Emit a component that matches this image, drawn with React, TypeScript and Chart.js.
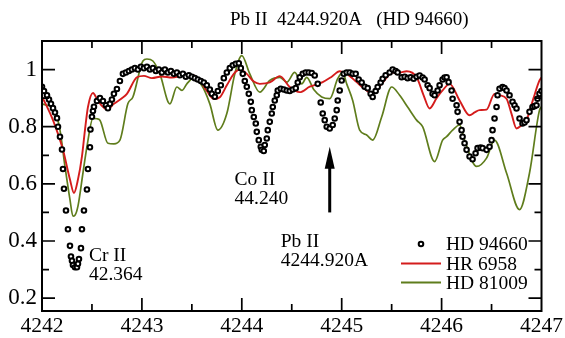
import React, { useEffect, useRef } from "react";
import { Chart, registerables } from "chart.js";

Chart.register(...registerables);

const TITLE = "Pb II  4244.920A   (HD 94660)";
const SERIES_NAMES = ["HD 94660", "HR 6958", "HD 81009"];
const X_TICKS = [4242, 4243, 4244, 4245, 4246, 4247];
const Y_TICKS = [0.2, 0.4, 0.6, 0.8, 1];

// HD 94660 (open circles): [wavelength, relative flux]
const HD94660: [number, number][] = [
  [4242.0, 0.94], [4242.02, 0.925], [4242.05, 0.91], [4242.07, 0.895], [4242.09, 0.88],
  [4242.11, 0.865], [4242.13, 0.85], [4242.15, 0.83], [4242.16, 0.8], [4242.18, 0.765],
  [4242.2, 0.72], [4242.21, 0.652], [4242.22, 0.583], [4242.24, 0.507], [4242.26, 0.441],
  [4242.28, 0.383], [4242.29, 0.346], [4242.3, 0.331], [4242.31, 0.316], [4242.33, 0.308],
  [4242.35, 0.308], [4242.36, 0.32], [4242.37, 0.337], [4242.39, 0.375], [4242.4, 0.441],
  [4242.42, 0.507], [4242.45, 0.58], [4242.46, 0.652], [4242.48, 0.728], [4242.485, 0.79],
  [4242.5, 0.835], [4242.51, 0.855], [4242.52, 0.87], [4242.55, 0.89], [4242.58, 0.9],
  [4242.61, 0.89], [4242.64, 0.875], [4242.66, 0.865], [4242.68, 0.88], [4242.7, 0.895],
  [4242.72, 0.915], [4242.75, 0.932], [4242.78, 0.96], [4242.81, 0.985], [4242.84, 0.99],
  [4242.87, 0.995], [4242.9, 1.0], [4242.93, 1.005], [4242.96, 1.0], [4242.99, 1.01],
  [4243.02, 1.005], [4243.05, 1.01], [4243.08, 1.0], [4243.11, 1.005], [4243.14, 0.995],
  [4243.17, 1.0], [4243.2, 0.99], [4243.23, 1.0], [4243.26, 0.99], [4243.29, 0.995],
  [4243.32, 0.985], [4243.35, 0.99], [4243.38, 0.98], [4243.41, 0.985], [4243.44, 0.975],
  [4243.47, 0.98], [4243.5, 0.975], [4243.53, 0.97], [4243.56, 0.965], [4243.59, 0.96],
  [4243.62, 0.955], [4243.65, 0.945], [4243.68, 0.93], [4243.7, 0.915], [4243.73, 0.905],
  [4243.76, 0.925], [4243.79, 0.945], [4243.82, 0.97], [4243.85, 0.99], [4243.88, 1.005],
  [4243.91, 1.015], [4243.94, 1.02], [4243.97, 1.022], [4243.99, 1.005], [4244.01, 0.985],
  [4244.03, 0.96], [4244.05, 0.94], [4244.07, 0.915], [4244.09, 0.887], [4244.1, 0.858],
  [4244.12, 0.834], [4244.14, 0.811], [4244.15, 0.782], [4244.17, 0.753], [4244.19, 0.73],
  [4244.2, 0.719], [4244.22, 0.715], [4244.23, 0.736], [4244.25, 0.759], [4244.26, 0.788],
  [4244.28, 0.817], [4244.3, 0.846], [4244.31, 0.869], [4244.33, 0.892], [4244.35, 0.91],
  [4244.36, 0.927], [4244.39, 0.933], [4244.42, 0.93], [4244.45, 0.927], [4244.48, 0.925],
  [4244.51, 0.93], [4244.54, 0.935], [4244.56, 0.955], [4244.58, 0.973], [4244.61, 0.985],
  [4244.64, 0.99], [4244.67, 0.99], [4244.7, 0.988], [4244.73, 0.979], [4244.76, 0.95],
  [4244.79, 0.885], [4244.81, 0.846], [4244.83, 0.823], [4244.85, 0.8], [4244.88, 0.794],
  [4244.91, 0.806], [4244.93, 0.829], [4244.95, 0.858], [4244.96, 0.892], [4244.98, 0.927],
  [4245.0, 0.962], [4245.02, 0.985], [4245.05, 0.99], [4245.08, 0.99], [4245.11, 0.985],
  [4245.14, 0.985], [4245.17, 0.965], [4245.2, 0.955], [4245.23, 0.94], [4245.26, 0.935],
  [4245.29, 0.915], [4245.31, 0.904], [4245.34, 0.925], [4245.36, 0.939], [4245.39, 0.955],
  [4245.41, 0.968], [4245.44, 0.98], [4245.48, 0.99], [4245.51, 1.0], [4245.54, 0.995],
  [4245.56, 0.99], [4245.6, 0.973], [4245.63, 0.975], [4245.66, 0.97], [4245.69, 0.973],
  [4245.72, 0.968], [4245.75, 0.975], [4245.78, 0.979], [4245.81, 0.972], [4245.83, 0.965],
  [4245.86, 0.945], [4245.88, 0.935], [4245.91, 0.915], [4245.93, 0.91], [4245.96, 0.927],
  [4245.98, 0.945], [4246.01, 0.965], [4246.03, 0.972], [4246.05, 0.973], [4246.07, 0.956],
  [4246.1, 0.927], [4246.11, 0.898], [4246.15, 0.875], [4246.16, 0.852], [4246.18, 0.817],
  [4246.2, 0.788], [4246.21, 0.765], [4246.23, 0.742], [4246.25, 0.719], [4246.28, 0.696],
  [4246.31, 0.686], [4246.34, 0.707], [4246.36, 0.725], [4246.39, 0.727], [4246.41, 0.725],
  [4246.45, 0.719], [4246.48, 0.73], [4246.5, 0.753], [4246.51, 0.788], [4246.53, 0.829],
  [4246.55, 0.869], [4246.56, 0.91], [4246.58, 0.933], [4246.61, 0.939], [4246.63, 0.935],
  [4246.65, 0.927], [4246.68, 0.91], [4246.71, 0.887], [4246.73, 0.875], [4246.75, 0.864],
  [4246.78, 0.829], [4246.81, 0.811], [4246.83, 0.815], [4246.85, 0.823], [4246.88, 0.852],
  [4246.91, 0.869], [4246.93, 0.872], [4246.95, 0.875], [4246.96, 0.898], [4246.98, 0.915],
  [4247.0, 0.925],
];

// HR 6958 (red line)
const HR6958: [number, number][] = [
  [4242.0, 0.905], [4242.05, 0.87], [4242.11, 0.823], [4242.21, 0.719], [4242.28, 0.615],
  [4242.32, 0.568], [4242.36, 0.615], [4242.4, 0.696], [4242.43, 0.788], [4242.46, 0.869],
  [4242.51, 0.918], [4242.56, 0.89], [4242.62, 0.866], [4242.65, 0.86], [4242.72, 0.88],
  [4242.8, 0.9], [4242.85, 0.915], [4242.95, 0.973], [4243.02, 0.978], [4243.1, 0.97],
  [4243.2, 0.976], [4243.3, 0.972], [4243.4, 0.978], [4243.5, 0.981], [4243.58, 0.962],
  [4243.65, 0.925], [4243.72, 0.897], [4243.78, 0.903], [4243.85, 0.945], [4243.92, 0.985],
  [4243.98, 1.0], [4244.05, 0.985], [4244.12, 0.958], [4244.18, 0.95], [4244.28, 0.955],
  [4244.38, 0.977], [4244.48, 0.939], [4244.58, 0.921], [4244.68, 0.94], [4244.81, 0.956],
  [4244.9, 0.975], [4244.98, 0.994], [4245.05, 0.985], [4245.15, 0.956], [4245.22, 0.935],
  [4245.31, 0.915], [4245.4, 0.95], [4245.51, 0.99], [4245.58, 0.99], [4245.65, 0.994],
  [4245.75, 0.973], [4245.82, 0.91], [4245.88, 0.864], [4245.95, 0.9], [4246.01, 0.927],
  [4246.08, 0.95], [4246.18, 0.892], [4246.28, 0.84], [4246.33, 0.85], [4246.38, 0.858],
  [4246.45, 0.86], [4246.53, 0.915], [4246.58, 0.91], [4246.65, 0.898], [4246.7, 0.845],
  [4246.75, 0.794], [4246.8, 0.805], [4246.85, 0.823], [4246.92, 0.9], [4246.98, 0.962],
  [4247.0, 0.972],
];

// HD 81009 (green line)
const HD81009: [number, number][] = [
  [4242.0, 0.88], [4242.05, 0.875], [4242.11, 0.869], [4242.18, 0.788], [4242.23, 0.661],
  [4242.28, 0.545], [4242.31, 0.487], [4242.33, 0.49], [4242.36, 0.522], [4242.41, 0.638],
  [4242.45, 0.73], [4242.51, 0.829], [4242.55, 0.828], [4242.58, 0.823], [4242.66, 0.742],
  [4242.72, 0.74], [4242.78, 0.753], [4242.86, 0.881], [4242.91, 0.904], [4243.01, 1.03],
  [4243.05, 1.037], [4243.11, 1.03], [4243.18, 0.985], [4243.28, 0.88], [4243.35, 0.939],
  [4243.4, 0.927], [4243.45, 0.95], [4243.51, 0.968], [4243.6, 0.944], [4243.68, 0.88],
  [4243.76, 0.788], [4243.85, 0.846], [4243.93, 0.985], [4244.0, 1.049], [4244.08, 0.985],
  [4244.18, 0.921], [4244.28, 0.962], [4244.38, 0.973], [4244.45, 0.956], [4244.53, 0.99],
  [4244.6, 0.95], [4244.65, 0.973], [4244.72, 0.93], [4244.8, 0.904], [4244.88, 0.898],
  [4244.96, 0.968], [4245.01, 0.99], [4245.05, 0.95], [4245.11, 0.892], [4245.18, 0.788],
  [4245.25, 0.771], [4245.31, 0.753], [4245.4, 0.834], [4245.5, 0.939], [4245.58, 0.91],
  [4245.66, 0.869], [4245.75, 0.823], [4245.81, 0.8], [4245.93, 0.678], [4246.01, 0.753],
  [4246.05, 0.765], [4246.11, 0.788], [4246.18, 0.806], [4246.23, 0.753], [4246.35, 0.661],
  [4246.45, 0.69], [4246.53, 0.753], [4246.65, 0.638], [4246.78, 0.51], [4246.88, 0.638],
  [4246.98, 0.858], [4247.0, 0.87],
];

const SERIF = "'Liberation Serif', 'Times New Roman', serif";
const RED = "#d41c1c";
const GREEN = "#5f7d1c";

const decorPlugin = {
  id: "decor",
  afterDatasetsDraw(chart: any) {
    const { ctx, chartArea: a, scales } = chart;
    const xs = scales.x;
    const ys = scales.y;
    ctx.save();
    ctx.strokeStyle = "#000";
    ctx.fillStyle = "#000";

    // frame
    ctx.lineWidth = 2;
    ctx.strokeRect(a.left, a.top, a.right - a.left, a.bottom - a.top);

    // inward ticks on all sides
    ctx.lineWidth = 1.7;
    ctx.beginPath();
    const xMin = X_TICKS[0];
    const xMax = X_TICKS[X_TICKS.length - 1];
    for (let i = 1; i < (xMax - xMin) * 2; i++) {
      const v = xMin + i * 0.5;
      const px = xs.getPixelForValue(v);
      const len = i % 2 === 0 ? 13 : 7;
      ctx.moveTo(px, a.bottom);
      ctx.lineTo(px, a.bottom - len);
      ctx.moveTo(px, a.top);
      ctx.lineTo(px, a.top + len);
    }
    for (let i = 2; i <= 10; i++) {
      const v = i / 10;
      const py = ys.getPixelForValue(v);
      const len = i % 2 === 0 ? 13 : 7;
      ctx.moveTo(a.left, py);
      ctx.lineTo(a.left + len, py);
      ctx.moveTo(a.right, py);
      ctx.lineTo(a.right - len, py);
    }
    ctx.stroke();

    // line identifications
    ctx.font = `19.5px ${SERIF}`;
    ctx.textAlign = "left";
    ctx.textBaseline = "alphabetic";
    const label = (wl: number, f: number, lines: string[]) => {
      const px = xs.getPixelForValue(wl);
      const py = ys.getPixelForValue(f);
      lines.forEach((t, k) => ctx.fillText(t, px, py + k * 19));
    };
    label(4242.47, 0.33, ["Cr II", "42.364"]);
    label(4243.927, 0.597, ["Co II", "44.240"]);
    label(4244.39, 0.378, ["Pb II", "4244.920A"]);

    // arrow pointing at Pb II line
    const ax = xs.getPixelForValue(4244.88);
    const tip = ys.getPixelForValue(0.73);
    const base = ys.getPixelForValue(0.5);
    ctx.lineWidth = 3;
    ctx.beginPath();
    ctx.moveTo(ax, base);
    ctx.lineTo(ax, tip + 18);
    ctx.stroke();
    ctx.beginPath();
    ctx.moveTo(ax, tip);
    ctx.lineTo(ax - 5, tip + 22);
    ctx.lineTo(ax + 5, tip + 22);
    ctx.closePath();
    ctx.fill();

    // title
    ctx.font = `19px ${SERIF}`;
    ctx.fillText(TITLE, 230, 25);

    // legend
    const lx0 = 401;
    const lx1 = 441;
    const tx = 446;
    const rows = [244, 263.5, 282.5];
    ctx.textBaseline = "middle";
    ctx.font = `19.5px ${SERIF}`;
    rows.forEach((ry, k) => {
      if (k === 0) {
        ctx.beginPath();
        ctx.arc(421, ry, 2.3, 0, Math.PI * 2);
        ctx.fillStyle = "#fff";
        ctx.fill();
        ctx.lineWidth = 2;
        ctx.strokeStyle = "#000";
        ctx.stroke();
      } else {
        ctx.beginPath();
        ctx.moveTo(lx0, ry);
        ctx.lineTo(lx1, ry);
        ctx.lineWidth = 1.8;
        ctx.strokeStyle = k === 1 ? RED : GREEN;
        ctx.stroke();
      }
      ctx.fillStyle = "#000";
      ctx.fillText(SERIES_NAMES[k], tx, ry + 1);
    });
    ctx.restore();
  },
};

export default function App() {
  const ref = useRef<HTMLCanvasElement | null>(null);

  useEffect(() => {
    if (!ref.current) return;
    const toPts = (arr: [number, number][]) => arr.map(([x, y]) => ({ x, y }));
    const chart = new Chart(ref.current, {
      type: "line",
      data: {
        datasets: [
          {
            label: SERIES_NAMES[0],
            data: toPts(HD94660),
            showLine: false,
            pointStyle: "circle",
            pointRadius: 2.3,
            pointBorderWidth: 2,
            pointBorderColor: "#000",
            pointBackgroundColor: "#fff",
            borderColor: "#000",
            backgroundColor: "#fff",
          },
          {
            label: SERIES_NAMES[1],
            data: toPts(HR6958),
            borderColor: RED,
            borderWidth: 1.9,
            pointRadius: 0,
            cubicInterpolationMode: "monotone",
            fill: false,
          },
          {
            label: SERIES_NAMES[2],
            data: toPts(HD81009),
            borderColor: GREEN,
            borderWidth: 1.7,
            pointRadius: 0,
            cubicInterpolationMode: "monotone",
            fill: false,
          },
        ],
      },
      options: {
        animation: false,
        responsive: false,
        devicePixelRatio: 1,
        layout: { padding: { top: 41, right: 23, left: 0, bottom: 0 } },
        plugins: {
          legend: { display: false },
          title: { display: false },
          tooltip: { enabled: false },
        },
        scales: {
          x: {
            type: "linear",
            min: X_TICKS[0],
            max: X_TICKS[X_TICKS.length - 1],
            afterBuildTicks: (s: any) => {
              s.ticks = X_TICKS.map((value) => ({ value }));
            },
            afterFit: (s: any) => {
              s.height = 27;
            },
            grid: { display: false, drawTicks: false },
            border: { display: false },
            ticks: {
              color: "#000",
              font: { family: SERIF, size: 21.5 },
              padding: 2,
              maxRotation: 0,
              autoSkip: false,
              callback: (v: any) => String(v),
            },
          },
          y: {
            type: "linear",
            min: 0.155,
            max: 1.1,
            afterBuildTicks: (s: any) => {
              s.ticks = Y_TICKS.map((value) => ({ value }));
            },
            afterFit: (s: any) => {
              s.width = 42;
            },
            grid: { display: false, drawTicks: false },
            border: { display: false },
            ticks: {
              color: "#000",
              font: { family: SERIF, size: 23 },
              padding: 5,
              autoSkip: false,
              callback: (v: any) => (Number(v) === 1 ? "1" : Number(v).toFixed(1)),
            },
          },
        },
      },
      plugins: [decorPlugin],
    });
    return () => chart.destroy();
  }, []);

  return (
    <div style={{ position: "absolute", left: 0, top: 0, width: 565, height: 338, background: "#fff" }}>
      <canvas ref={ref} width={565} height={338} style={{ display: "block" }} />
    </div>
  );
}
